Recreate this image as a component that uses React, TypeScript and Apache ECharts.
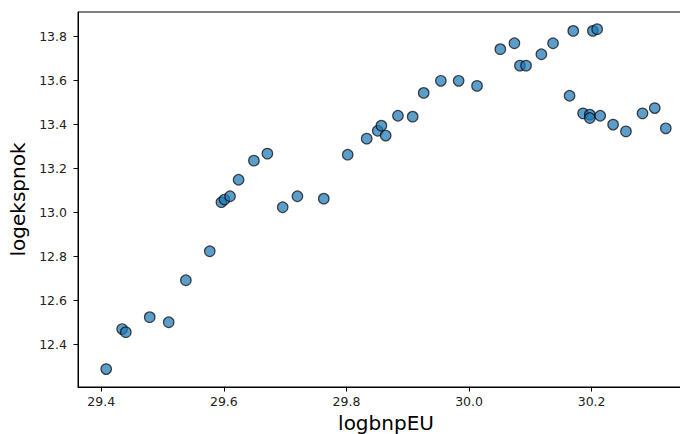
import React, { useEffect, useRef } from "react";
import * as echarts from "echarts";

const logbnpEU: number[] = [
  29.408, 29.434, 29.44, 29.479, 29.51, 29.538, 29.577, 29.596, 29.601, 29.61,
  29.624, 29.649, 29.671, 29.696, 29.72, 29.763, 29.802, 29.833, 29.851, 29.857,
  29.864, 29.884, 29.908, 29.926, 29.954, 29.983, 30.013, 30.051, 30.074, 30.083,
  30.093, 30.118, 30.137, 30.17, 30.202, 30.209, 30.164, 30.186, 30.197, 30.197,
  30.214, 30.235, 30.256, 30.283, 30.303, 30.321,
];
const logekspnok: number[] = [
  12.288, 12.47, 12.456, 12.524, 12.501, 12.692, 12.824, 13.047, 13.059, 13.074,
  13.149, 13.236, 13.268, 13.024, 13.074, 13.063, 13.263, 13.336, 13.372, 13.395,
  13.35, 13.44, 13.436, 13.544, 13.599, 13.599, 13.576, 13.743, 13.77, 13.668,
  13.668, 13.72, 13.77, 13.826, 13.826, 13.834, 13.531, 13.451, 13.445, 13.43,
  13.44, 13.4, 13.369, 13.451, 13.475, 13.383,
];
const xTicks: number[] = [29.4, 29.6, 29.8, 30.0, 30.2];
const yTicks: number[] = [12.4, 12.6, 12.8, 13.0, 13.2, 13.4, 13.6, 13.8];

export default function App() {
  const ref = useRef<HTMLDivElement>(null);
  useEffect(() => {
    if (!ref.current) return;
    const chart = echarts.init(ref.current, null, { renderer: "svg" });
    const xMin = 29.362;
    const xMax = 30.367;
    const yMin = 12.2065;
    const yMax = 13.912;
    const tickColor = "#222";
    chart.setOption({
      animation: false,
      backgroundColor: "#fff",
      grid: {
        left: 78,
        top: 12,
        right: 6,
        bottom: 47,
        show: true,
        borderColor: "#000",
        borderWidth: 1,
        backgroundColor: "transparent",
        containLabel: false,
        outerBoundsMode: "none",
      },
      xAxis: {
        type: "value",
        min: xMin,
        max: xMax,
        name: "logbnpEU",
        nameLocation: "middle",
        nameGap: 25,
        nameTextStyle: { fontFamily: "DejaVu Sans", fontSize: 20, color: "#000" },
        axisLine: { show: true, onZero: false, lineStyle: { color: "#000", width: 1 } },
        axisTick: {
          show: true,
          length: 4.5,
          lineStyle: { color: "#000" },
          customValues: xTicks,
        },
        axisLabel: {
          fontFamily: "DejaVu Sans",
          fontSize: 12.5,
          color: tickColor,
          margin: 8,
          customValues: xTicks,
          formatter: (v: number) => v.toFixed(1),
        },
        splitLine: { show: false },
      },
      yAxis: {
        type: "value",
        min: yMin,
        max: yMax,
        name: "logekspnok",
        nameLocation: "middle",
        nameGap: 46,
        nameTextStyle: { fontFamily: "DejaVu Sans", fontSize: 20, color: "#000" },
        axisLine: { show: true, onZero: false, lineStyle: { color: "#000", width: 1 } },
        axisTick: {
          show: true,
          length: 4.5,
          lineStyle: { color: "#000" },
          customValues: yTicks,
        },
        axisLabel: {
          fontFamily: "DejaVu Sans",
          fontSize: 12.5,
          color: tickColor,
          margin: 11,
          customValues: yTicks,
          formatter: (v: number) => v.toFixed(1),
        },
        splitLine: { show: false },
      },
      series: [
        {
          type: "scatter",
          data: logbnpEU.map((x, i) => [x, logekspnok[i]]),
          symbol: "circle",
          symbolSize: 10.5,
          itemStyle: {
            color: "rgba(31,119,180,0.72)",
            borderColor: "rgba(0,0,0,0.7)",
            borderWidth: 1.2,
            opacity: 1,
          },
        },
      ],
    });
    return () => chart.dispose();
  }, []);
  return (
    <div
      style={{
        position: "fixed",
        left: 0,
        top: 0,
        width: 680,
        height: 434,
        overflow: "hidden",
      }}
    >
      <div ref={ref} style={{ width: 700, height: 434 }} />
    </div>
  );
}
